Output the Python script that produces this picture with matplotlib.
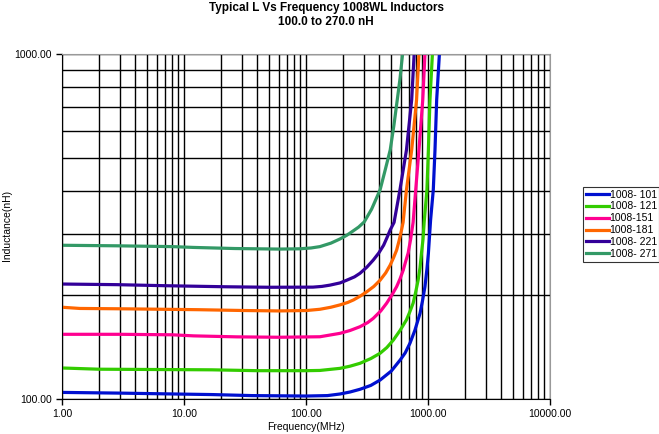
import matplotlib
matplotlib.use("Agg")
import matplotlib.pyplot as plt
from matplotlib.ticker import FixedLocator, NullFormatter, LogLocator

plt.rcParams['font.family'] = ['Liberation Sans', 'DejaVu Sans']

# Values (frequency in MHz, inductance in nH).
f_101 = [1, 3, 7, 17, 36, 100, 150, 190, 230, 277, 340, 405, 500, 592, 650, 711, 780, 860, 900, 944, 980, 1007, 1050, 1105, 1141, 1178, 1240]
L_101 = [104.5, 104, 103.5, 103, 102.3, 102, 102.3, 103.4, 104.8, 106.7, 109.5, 113.5, 120.5, 129.8, 136, 145, 158, 177, 192, 211.6, 238, 264, 330, 404, 527, 737, 1000]

f_121 = [1, 2, 17, 40, 100, 130, 190, 230, 277, 340, 405, 460, 520, 590, 666, 710, 755, 790, 830, 860, 884, 910, 930, 980, 1007, 1038, 1087]
L_121 = [123, 122, 121.5, 120.8, 120.8, 121, 122.7, 124.5, 126.9, 131, 135.7, 141, 148.2, 158, 169.6, 179, 189.5, 203, 221, 240, 264.5, 290, 325, 404, 527, 737, 1000]

f_151 = [1, 3, 8, 12, 27, 60, 130, 190, 230, 277, 320, 356, 410, 458, 505, 553, 590, 627, 655, 687, 720, 755, 793, 843, 906, 944]
L_151 = [154, 154, 153.5, 152.4, 151.4, 151, 151.5, 155, 158, 162, 166.5, 171.3, 180, 189.5, 200, 211.6, 223, 236.5, 250, 264.5, 290, 325, 404, 527, 737, 1000]

f_181 = [1, 1.4, 3.5, 13, 31, 60, 101, 130, 160, 190, 220, 245, 280, 315, 360, 405, 450, 490, 520, 553, 580, 607, 625, 666, 735, 806, 843]
L_181 = [184.5, 183, 182.5, 181.5, 180.5, 180, 180.5, 182, 184.5, 187.4, 190.5, 193.7, 199, 204.6, 212, 221, 232, 244.5, 256, 270, 288, 309, 325, 404, 527, 737, 1000]

f_221 = [1, 2.8, 7, 22, 50, 114, 135, 157, 190, 216, 250, 277, 315, 356, 395, 433, 460, 490, 527, 589, 666, 735, 770]
L_221 = [215.4, 214.5, 213, 211.5, 210.8, 211, 212, 213.8, 217, 221, 226, 231.4, 241, 252.8, 265, 279.2, 293, 309, 325, 404, 527, 737, 1000]

f_271 = [1, 2.8, 8, 12, 26, 60, 89, 110, 130, 160, 190, 215, 237, 270, 300, 345, 405, 445, 490, 525, 560, 590, 619]
L_271 = [279, 278, 276.5, 275, 273, 272, 272.5, 274, 276.5, 283, 291, 298, 305, 315, 326, 355, 404, 460, 527, 620, 737, 850, 1000]

names = ["1008- 101", "1008- 121", "1008-151", "1008-181", "1008- 221", "1008- 271"]
colors = ["#0010D0", "#33CC00", "#FF0090", "#FF6600", "#330099", "#339966"]
series = [(f_101, L_101), (f_121, L_121), (f_151, L_151),
          (f_181, L_181), (f_221, L_221), (f_271, L_271)]

fig = plt.figure(figsize=(6.59, 4.34), dpi=100)
ax = fig.add_axes([62/659, 1-399/434, 488/659, 345/434])

for (f, L), name, c in zip(series, names, colors):
    ax.plot(f, L, color=c, lw=2.3, label=name, solid_joinstyle='round')

ax.set_xscale('log')
ax.set_yscale('log')
ax.set_xlim(1, 10000)
ax.set_ylim(100, 1000)

ax.xaxis.set_major_locator(FixedLocator([1, 10, 100, 1000, 10000]))
ax.yaxis.set_major_locator(FixedLocator([100, 1000]))
ax.xaxis.set_minor_locator(LogLocator(base=10, subs=range(2, 10), numticks=20))
ax.yaxis.set_minor_locator(LogLocator(base=10, subs=range(2, 10), numticks=20))
ax.xaxis.set_minor_formatter(NullFormatter())
ax.yaxis.set_minor_formatter(NullFormatter())
ax.set_xticklabels(["1.00", "10.00", "100.00", "1000.00", "10000.00"])
ax.set_yticklabels(["100.00", "1000.00"])
ax.tick_params(which='major', direction='out', length=4, width=1, labelsize=7.5, colors='black')
ax.tick_params(which='minor', length=0)

ax.grid(True, which='both', color='black', lw=1)
ax.set_axisbelow(True)
for s in ['left', 'bottom']:
    ax.spines[s].set_color('black')
for s in ['top', 'right']:
    ax.spines[s].set_color('#999999')

fig.text(306/659, 1-427/434, "Frequency(MHz)", fontsize=7.5, ha='center', va='center')
fig.text(7/659, 1-225/434, "Inductance(nH)", rotation=90, fontsize=7.5, ha='center', va='center')

fig.text(0.495, 1-8/434, "Typical L Vs Frequency 1008WL Inductors", fontsize=8.5,
         fontweight='bold', ha='center', va='center')
fig.text(0.495, 1-22/434, "100.0 to 270.0 nH", fontsize=8.5,
         fontweight='bold', ha='center', va='center')

leg = fig.legend(loc='upper left', bbox_to_anchor=(583/659, 1-187/434), fontsize=7.5,
                 frameon=True, fancybox=False, edgecolor='black', borderpad=0.25,
                 handlelength=2.2, handletextpad=0.1, labelspacing=0.18, borderaxespad=0)
leg.get_frame().set_linewidth(0.8)

fig.savefig("out.png", dpi=100)
